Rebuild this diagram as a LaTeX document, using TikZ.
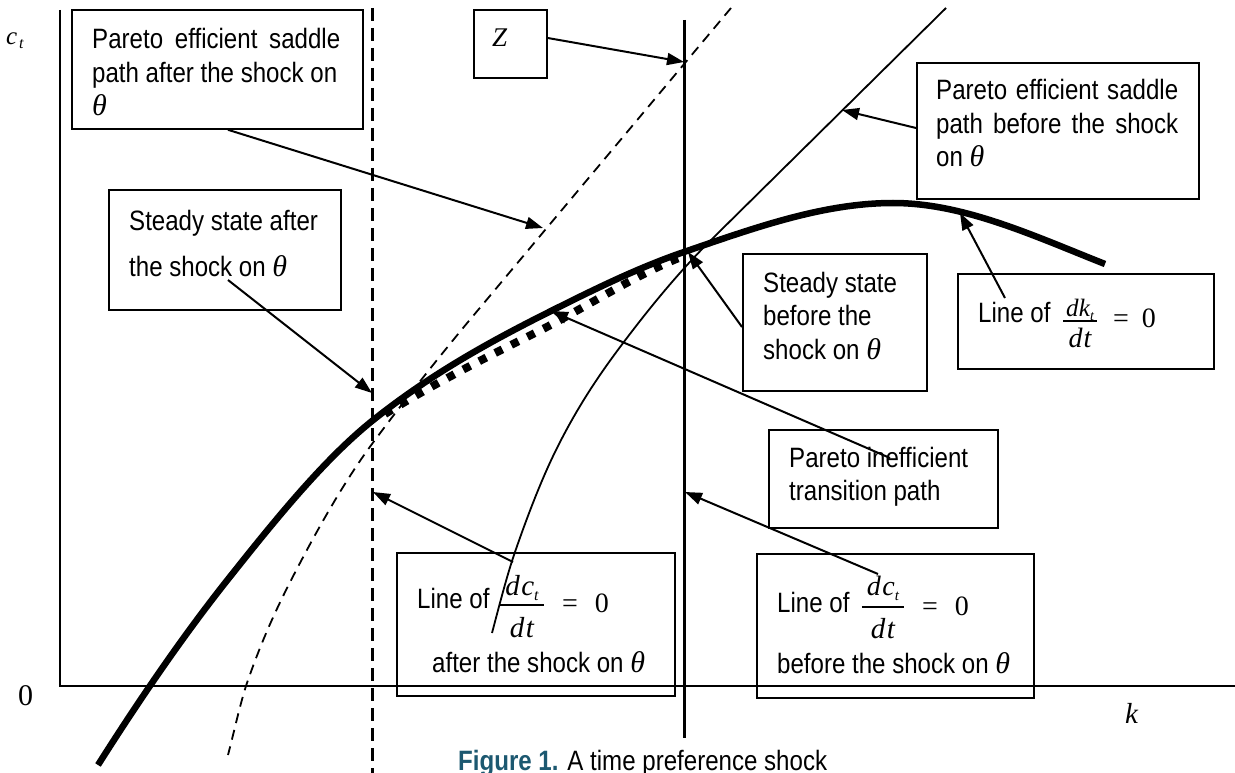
\documentclass[tikz,border=0pt]{standalone}
\usepackage{fontspec}
\setmainfont{Liberation Sans}[FakeStretch=0.86]
\newfontfamily\tms{Liberation Serif}
\usetikzlibrary{arrows.meta}
\definecolor{capteal}{RGB}{28,88,112}
% italic serif symbol at a given size
\newcommand\mi[2]{{\tms\itshape\fontsize{#1}{#1}\selectfont #2}}
\newcommand\thet{\mi{30}{θ}}
% built fraction: #1 gap above rule, #2 gap below rule, #3 numerator, #4 denominator
\newcommand\fr[4]{\vbox{\offinterlineskip\halign{\hfil##\hfil\cr\rule[-#1]{0pt}{#1}#3\cr\noalign{\hrule height 1.3pt}\rule{0pt}{#2}#4\cr}}}
\tikzset{
  box/.style={draw, line width=1.8pt, inner sep=0pt, anchor=north west},
  txt/.style={inner sep=0pt, anchor=base west, font=\fontsize{28}{33.5}\selectfont},
  eqn/.style={inner sep=0pt, anchor=base west, font=\tms\fontsize{28}{28}\selectfont},
  frc/.style={inner sep=0pt, anchor=base},
  arr/.style={line width=2pt, -{Triangle[length=17pt,width=12pt]}},
  axis/.style={line width=2pt},
}
\begin{document}
\begin{tikzpicture}[x=1pt,y=-1pt]
\path[use as bounding box] (0,0) rectangle (1235,773);

% axes
\coordinate (O) at (60,686);
\coordinate (ytop) at (60,10);
\coordinate (xend) at (1235,686);
\draw[axis] (ytop) -- (O) -- (xend);
\node[inner sep=0pt, anchor=base west] (cl) at (6,45) {\mi{25}{c}};
\node[inner sep=0pt, anchor=base west] (clt) at (19,49) {\mi{16}{t}};
\node[inner sep=0pt, anchor=base west] (zero) at (18,705) {\tms\fontsize{30}{30}\selectfont 0};
\node[inner sep=0pt, anchor=base west] (kl) at (1125,723) {\mi{29}{k}};

% dc/dt = 0 loci: after (dashed) and before (solid) the shock
\draw[line width=3pt, dash pattern=on 13pt off 7pt] (372,8) -- (372,773);
\draw[line width=3pt] (684,20) -- (684,738);

% saddle path after the shock
\draw[line width=1.8pt, dash pattern=on 10pt off 7pt]
  (731,8) -- (463,328)
  .. controls (432.7,365) and (402.3,403.1) .. (372,444)
  .. controls (348,476.4) and (324,517.4) .. (300,563)
  .. controls (282.3,596.6) and (264.7,631.7) .. (247,683)
  .. controls (240.7,701.4) and (234.3,731) .. (228,755);

% saddle path before the shock
\draw[line width=1.8pt]
  (946,8) -- (710,241)
  .. controls (684.3,266.7) and (658.7,296.6) .. (633,330)
  .. controls (607.7,362.9) and (582.3,397.4) .. (557,448)
  .. controls (543,476) and (529,511.4) .. (515,552)
  .. controls (507.3,574.2) and (499.7,603.9) .. (492,633);

% dk/dt = 0 locus
\draw[line width=6.5pt]
  (98,765)
  .. controls (143,694) and (188,629) .. (233,573)
  .. controls (279,515) and (326,458) .. (372,421)
  .. controls (432,373) and (493,340) .. (553,310)
  .. controls (597,288) and (640,267) .. (684,252)
  .. controls (754,228) and (823,203) .. (893,203)
  .. controls (964,203) and (1034,236) .. (1105,264);

% inefficient transition path
\draw[line width=8pt, dash pattern=on 8pt off 10pt]
  (385,414)
  .. controls (435.7,382.6) and (486.3,357.3) .. (537,332)
  .. controls (586,307.5) and (635,274.6) .. (684,256);

% label boxes
\node[box, minimum width=291pt, minimum height=119pt] (b1) at (71,9) {};
\node[txt] (b1t) at (92,49) {\parbox[t]{248pt}{\makebox[248pt][s]{Pareto efficient saddle}\\path after the shock on\\\thet}};

\node[box, minimum width=232pt, minimum height=120pt] (b2) at (108,189) {};
\node[txt] (b2t) at (129,230) {\parbox[t]{210pt}{\baselineskip=47pt Steady state after\\the shock on \thet}};

\node[box, minimum width=73pt, minimum height=68pt] (bz) at (473,9) {};
\node[inner sep=0pt, anchor=base west] (bzt) at (492,47) {\mi{27}{Z}};

\node[box, minimum width=282pt, minimum height=136pt] (b4) at (916,62) {};
\node[txt] (b4t) at (936,100) {\parbox[t]{242pt}{\makebox[242pt][s]{Pareto efficient saddle}\\\makebox[242pt][s]{path before the shock}\\on \thet}};

\node[box, minimum width=184pt, minimum height=137pt] (b5) at (742,253) {};
\node[txt] (b5t) at (763,292) {\parbox[t]{160pt}{Steady state\\before the\\shock on \thet}};

\node[box, minimum width=256pt, minimum height=95pt] (b6) at (957,273) {};
\node[txt] (b6l) at (978,322) {Line of};
\node[frc] (b6f) at (1080,347) {\fr{3.4pt}{25.4pt}{\kern3pt\mi{25}{d\kern0.5pt k}\raisebox{-4pt}{\mi{14}{t}}\kern3pt}{\mi{28}{d\kern1pt t}}};
\node[eqn] (b6e) at (1113,327) {=\hspace{13pt}0};

\node[box, minimum width=229pt, minimum height=98pt] (b7) at (768,429) {};
\node[txt] (b7t) at (789,467) {\parbox[t]{200pt}{Pareto inefficient\\transition path}};

\node[box, minimum width=278pt, minimum height=143pt] (b8) at (396,552) {};
\node[txt] (b8l) at (417,608) {Line of};
\node[frc] (b8f) at (522,637) {\fr{8.4pt}{31.4pt}{\kern5pt\mi{29}{d\kern1.5pt c}\raisebox{-5pt}{\mi{16}{t}}\kern5pt}{\mi{29}{d\kern1.5pt t}}};
\node[eqn] (b8e) at (562,612) {=\hspace{17pt}0};
\node[txt] (b8s) at (432,672) {after the shock on \thet};

\node[box, minimum width=277pt, minimum height=144pt] (b9) at (756,553) {};
\node[txt] (b9l) at (777,612) {Line of};
\node[frc] (b9f) at (883,638) {\fr{10.4pt}{30.4pt}{\kern5pt\mi{28}{d\kern1.5pt c}\raisebox{-5pt}{\mi{15}{t}}\kern5pt}{\mi{29}{d\kern1.5pt t}}};
\node[eqn] (b9e) at (922,615) {=\hspace{17pt}0};
\node[txt] (b9s) at (777,673) {before the shock on \thet};

% arrow targets and starts
\coordinate (ta) at (543,228);
\coordinate (tz) at (684,62);
\coordinate (tc) at (842,110);
\coordinate (td) at (372,393);
\coordinate (te) at (688,252);
\coordinate (tf) at (551,311);
\coordinate (tg) at (960,213);
\coordinate (th) at (373,492);
\coordinate (ti) at (685,492);
\coordinate (sd) at (228,280);
\coordinate (se) at (742,327);
\coordinate (sf) at (890,458);
\coordinate (sg) at (1005,298);
\coordinate (sh) at (513,562);
\coordinate (si) at (878,574);

\draw[arr] ([xshift=157pt]b1.south west) -- (ta);
\draw[arr] (bz.east |- 0,38) -- (tz);
\draw[arr] (b4.west |- 0,128) -- (tc);
\draw[arr] (sd) -- (td);
\draw[arr] (se) -- (te);
\draw[arr] (sf) -- (tf);
\draw[arr] (sg) -- (tg);
\draw[arr] (sh) -- (th);
\draw[arr] (si) -- (ti);

% caption
\node[inner sep=0pt, anchor=base west, font=\fontsize{28}{33}\selectfont] (cap) at (458,770)
  {\textcolor{capteal}{\bfseries Figure 1.} A time preference shock};
\end{tikzpicture}
\end{document}
